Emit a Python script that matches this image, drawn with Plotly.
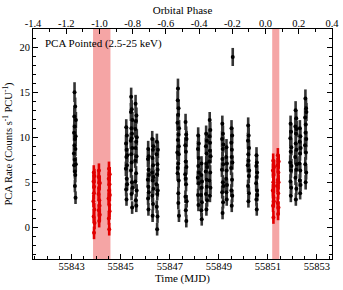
import plotly.graph_objects as go

# ---------------- data ----------------
# Black: PCA pointed rates outside the shaded intervals
black_t = [
    # ~55843.13
    55843.090, 55843.095, 55843.100, 55843.105, 55843.110, 55843.115, 55843.120, 55843.125, 55843.130,
    55843.135, 55843.140, 55843.145, 55843.150, 55843.155, 55843.160, 55843.165, 55843.170, 55843.130,
    # ~55845.24
    55845.210, 55845.215, 55845.220, 55845.225, 55845.230, 55845.235, 55845.240, 55845.245, 55845.250,
    55845.255, 55845.260, 55845.265,
    # ~55845.45
    55845.410, 55845.415, 55845.420, 55845.425, 55845.430, 55845.435, 55845.440, 55845.445, 55845.450,
    55845.455, 55845.460, 55845.465, 55845.470, 55845.475, 55845.480, 55845.445,
    # ~55845.62
    55845.590, 55845.595, 55845.600, 55845.605, 55845.610, 55845.615, 55845.620, 55845.625, 55845.630,
    55845.635, 55845.640, 55845.645, 55845.650, 55845.655,
    # ~55846.13
    55846.105, 55846.110, 55846.115, 55846.120, 55846.125, 55846.130, 55846.135, 55846.140, 55846.145,
    55846.150,
    # ~55846.31
    55846.280, 55846.285, 55846.290, 55846.295, 55846.300, 55846.305, 55846.310, 55846.315, 55846.320,
    55846.325, 55846.330, 55846.335,
    # ~55846.49
    55846.460, 55846.465, 55846.470, 55846.475, 55846.480, 55846.485, 55846.490, 55846.495, 55846.500,
    55846.505, 55846.510, 55846.515,
    # ~55847.35
    55847.310, 55847.315, 55847.320, 55847.325, 55847.330, 55847.335, 55847.340, 55847.345, 55847.350,
    55847.355, 55847.360, 55847.365, 55847.370, 55847.375, 55847.380, 55847.330, 55847.350, 55847.370,
    # ~55847.66
    55847.630, 55847.635, 55847.640, 55847.645, 55847.650, 55847.655, 55847.660, 55847.665, 55847.670,
    55847.675, 55847.680, 55847.685, 55847.690, 55847.650,
    # ~55848.17
    55848.145, 55848.150, 55848.155, 55848.160, 55848.165, 55848.170, 55848.175, 55848.180, 55848.185,
    55848.190,
    # ~55848.30
    55848.280, 55848.285, 55848.290, 55848.295, 55848.300, 55848.305, 55848.310, 55848.315,
    # ~55848.50
    55848.470, 55848.475, 55848.480, 55848.485, 55848.490, 55848.495, 55848.500, 55848.505, 55848.510,
    55848.515, 55848.520, 55848.525,
    # ~55848.64
    55848.615, 55848.620, 55848.625, 55848.630, 55848.635, 55848.640, 55848.645, 55848.650, 55848.655,
    55848.660, 55848.665,
    # ~55849.16
    55849.130, 55849.135, 55849.140, 55849.145, 55849.150, 55849.155, 55849.160, 55849.165, 55849.170,
    55849.175, 55849.180, 55849.185, 55849.190,
    # ~55849.32
    55849.300, 55849.305, 55849.310, 55849.315, 55849.320, 55849.325, 55849.330, 55849.335,
    # ~55849.53
    55849.505, 55849.510, 55849.515, 55849.520, 55849.525, 55849.530, 55849.535, 55849.540, 55849.545,
    55849.550, 55849.555,
    # isolated high point
    55849.570,
    # ~55850.21
    55850.185, 55850.190, 55850.195, 55850.200, 55850.205, 55850.210, 55850.215, 55850.220, 55850.225,
    55850.230, 55850.235, 55850.240,
    # ~55850.55
    55850.525, 55850.530, 55850.535, 55850.540, 55850.545, 55850.550, 55850.555, 55850.560, 55850.565,
    55850.570,
    # ~55851.94
    55851.915, 55851.920, 55851.925, 55851.930, 55851.935, 55851.940, 55851.945, 55851.950, 55851.955,
    55851.960, 55851.965,
    # ~55852.15
    55852.120, 55852.125, 55852.130, 55852.135, 55852.140, 55852.145, 55852.150, 55852.155, 55852.160,
    55852.165, 55852.170, 55852.175, 55852.180,
    # ~55852.32
    55852.295, 55852.300, 55852.305, 55852.310, 55852.315, 55852.320, 55852.325, 55852.330, 55852.335,
    55852.340,
    # ~55852.55
    55852.520, 55852.525, 55852.530, 55852.535, 55852.540, 55852.545, 55852.550, 55852.555, 55852.560,
    55852.565, 55852.570, 55852.575,
]
black_rate = [
    8.2, 10.5, 6.9, 12.3, 9.1, 15.0, 11.2, 7.5, 4.6, 9.8, 13.4, 5.8, 8.7, 3.3, 10.1, 7.0, 11.9, 6.2,
    6.5, 9.3, 4.2, 11.1, 7.8, 3.1, 8.6, 5.4, 10.2, 6.9, 4.8, 8.0,
    9.6, 12.8, 6.3, 14.5, 8.1, 11.0, 3.7, 7.2, 13.1, 5.0, 10.4, 2.2, 8.8, 11.9, 4.4, 9.9,
    7.4, 10.9, 5.1, 13.7, 8.8, 3.0, 11.8, 6.0, 9.5, 2.4, 12.4, 7.9, 4.1, 10.0,
    5.3, 7.6, 3.2, 8.7, 4.5, 2.0, 6.4, 7.9, 3.9, 5.8,
    6.1, 9.8, 3.5, 7.7, 1.3, 5.2, 8.6, 2.6, 6.9, 4.3, 9.0, 5.6,
    4.8, 8.1, 2.3, 9.5, 5.9, -0.2, 3.7, 7.0, 1.2, 6.4, 4.1, 8.6,
    8.3, 11.6, 6.0, 14.1, 9.7, 15.4, 12.5, 7.1, 3.8, 10.3, 13.2, 5.2, 9.0, 1.3, 11.0, 6.6, 2.7, 8.1,
    5.9, 9.1, 3.4, 11.7, 7.3, 1.9, 8.4, 4.8, 10.3, 0.7, 6.7, 9.8, 2.9, 5.4,
    5.5, 8.7, 3.6, 10.2, 6.8, 2.5, 7.7, 4.9, 9.3, 6.1,
    3.6, 5.8, 1.9, 7.1, 4.4, 0.9, 2.8, 5.1,
    6.2, 9.0, 3.7, 10.4, 7.1, 2.0, 5.3, 8.2, 4.5, 9.6, 6.7, 3.0,
    7.3, 10.1, 5.2, 11.9, 8.5, 3.5, 9.4, 6.1, 10.8, 4.4, 7.9,
    6.4, 9.8, 3.9, 11.5, 7.6, 1.6, 8.7, 5.0, 10.4, 2.8, 7.0, 9.2, 4.6,
    5.4, 7.8, 3.9, 8.9, 6.3, 3.1, 7.1, 4.7,
    6.6, 9.4, 4.1, 11.0, 7.8, 2.4, 8.6, 5.3, 10.2, 3.5, 7.2,
    18.9,
    6.9, 9.6, 4.6, 11.3, 8.1, 2.9, 7.4, 10.2, 5.7, 3.8, 8.8, 6.3,
    4.9, 6.8, 3.1, 8.0, 5.6, 2.0, 7.2, 4.1, 6.1, 3.6,
    7.2, 9.9, 5.1, 11.5, 8.4, 3.5, 6.3, 10.6, 4.4, 8.9, 6.8,
    7.8, 11.2, 5.5, 13.0, 9.3, 3.1, 10.4, 6.4, 12.1, 4.3, 8.6, 10.9, 7.0,
    7.1, 9.5, 5.2, 11.0, 8.2, 3.8, 6.3, 10.1, 4.7, 8.8,
    9.1, 12.2, 7.0, 14.3, 10.5, 5.0, 11.4, 8.3, 13.2, 6.1, 9.8, 12.8,
]
black_err = [
    0.8, 0.9, 0.8, 1.0, 0.8, 1.1, 0.9, 0.8, 0.7, 0.9, 1.0, 0.8, 0.8, 0.7, 0.9, 0.8, 0.9, 0.8,
    0.8, 0.9, 0.7, 0.9, 0.8, 0.7, 0.8, 0.8, 0.9, 0.8, 0.7, 0.8,
    0.9, 1.0, 0.8, 1.0, 0.8, 0.9, 0.7, 0.8, 1.0, 0.8, 0.9, 0.7, 0.8, 0.9, 0.7, 0.9,
    0.8, 0.9, 0.8, 1.0, 0.8, 0.7, 0.9, 0.8, 0.9, 0.7, 0.9, 0.8, 0.7, 0.9,
    0.8, 0.9, 0.7, 0.9, 0.8, 0.7, 0.8, 0.9, 0.7, 0.8,
    0.8, 0.9, 0.7, 0.8, 0.7, 0.8, 0.9, 0.7, 0.8, 0.7, 0.9, 0.8,
    0.8, 0.9, 0.7, 0.9, 0.8, 0.7, 0.7, 0.8, 0.7, 0.8, 0.7, 0.9,
    0.8, 0.9, 0.8, 1.0, 0.9, 1.1, 0.9, 0.8, 0.7, 0.9, 1.0, 0.8, 0.8, 0.7, 0.9, 0.8, 0.7, 0.8,
    0.8, 0.9, 0.7, 0.9, 0.8, 0.7, 0.8, 0.8, 0.9, 0.7, 0.8, 0.9, 0.7, 0.8,
    0.8, 0.9, 0.7, 0.9, 0.8, 0.7, 0.8, 0.8, 0.9, 0.8,
    0.7, 0.8, 0.7, 0.8, 0.7, 0.7, 0.7, 0.8,
    0.8, 0.9, 0.7, 0.9, 0.8, 0.7, 0.8, 0.9, 0.7, 0.9, 0.8, 0.7,
    0.8, 0.9, 0.8, 0.9, 0.8, 0.7, 0.9, 0.8, 0.9, 0.7, 0.8,
    0.8, 0.9, 0.7, 0.9, 0.8, 0.7, 0.8, 0.8, 0.9, 0.7, 0.8, 0.9, 0.7,
    0.8, 0.9, 0.7, 0.9, 0.8, 0.7, 0.8, 0.7,
    0.8, 0.9, 0.7, 0.9, 0.8, 0.7, 0.9, 0.8, 0.9, 0.7, 0.8,
    1.0,
    0.8, 0.9, 0.7, 0.9, 0.8, 0.7, 0.8, 0.9, 0.8, 0.7, 0.9, 0.8,
    0.8, 0.8, 0.7, 0.9, 0.8, 0.7, 0.8, 0.7, 0.8, 0.7,
    0.8, 0.9, 0.8, 0.9, 0.8, 0.7, 0.8, 0.9, 0.7, 0.9, 0.8,
    0.8, 0.9, 0.8, 1.0, 0.9, 0.7, 0.9, 0.8, 0.9, 0.7, 0.8, 0.9, 0.8,
    0.8, 0.9, 0.7, 0.9, 0.8, 0.7, 0.8, 0.9, 0.7, 0.8,
    0.9, 1.0, 0.8, 1.0, 0.9, 0.8, 0.9, 0.8, 1.0, 0.8, 0.9, 1.0,
]

# Red: rates inside the shaded (low-state) intervals
red_t = [
    55843.885, 55843.890, 55843.895, 55843.900, 55843.905, 55843.910, 55843.915, 55843.920, 55843.925, 55843.930,
    55844.095, 55844.100, 55844.105, 55844.110, 55844.115, 55844.120, 55844.125, 55844.130, 55844.135, 55844.140, 55844.145,
    55844.505, 55844.510, 55844.515, 55844.520, 55844.525, 55844.530, 55844.535, 55844.540, 55844.545, 55844.550, 55844.555,
    55851.205, 55851.210, 55851.215, 55851.220, 55851.225, 55851.230, 55851.235, 55851.240, 55851.245, 55851.250, 55851.255,
    55851.395, 55851.400, 55851.405, 55851.410, 55851.415, 55851.420, 55851.425, 55851.430, 55851.435, 55851.440, 55851.445,
]
red_rate = [
    2.9, 5.1, 1.2, 6.1, 3.8, -0.6, 4.5, 2.0, 5.7, 0.5,
    3.7, 5.6, 1.9, 6.3, 4.4, 0.7, 3.0, 5.0, 2.4, 4.9, 1.4,
    3.2, 5.4, 1.0, 6.5, 4.1, -0.2, 2.5, 4.8, 1.8, 5.9, 3.6,
    4.1, 6.3, 2.4, 7.4, 5.0, 1.1, 3.3, 5.8, 2.9, 4.6, 6.7,
    4.6, 6.9, 2.7, 8.0, 5.3, 1.5, 3.8, 6.1, 2.2, 5.0, 7.3,
]
red_err = [
    0.7, 0.8, 0.7, 0.8, 0.7, 0.7, 0.8, 0.7, 0.8, 0.7,
    0.7, 0.8, 0.7, 0.8, 0.7, 0.7, 0.7, 0.8, 0.7, 0.8, 0.7,
    0.7, 0.8, 0.7, 0.8, 0.7, 0.7, 0.7, 0.8, 0.7, 0.8, 0.7,
    0.7, 0.8, 0.7, 0.8, 0.7, 0.7, 0.7, 0.8, 0.7, 0.8, 0.8,
    0.7, 0.8, 0.7, 0.8, 0.7, 0.7, 0.7, 0.8, 0.7, 0.8, 0.8,
]

# shaded intervals (MJD)
shade_start = [55843.87, 55851.18]
shade_end = [55844.58, 55851.47]

# axis ranges
mjd_range = [55841.42, 55853.62]
phase_range = [-1.4, 0.4]
rate_range = [-3.5, 22.0]
mjd_ticks = [55843, 55845, 55847, 55849, 55851, 55853]
phase_ticks = [-1.4, -1.2, -1.0, -0.8, -0.6, -0.4, -0.2, 0.0, 0.2, 0.4]
phase_labels = ["-1.4", "-1.2", "-1.0", "-0.8", "-0.6", "-0.4", "-0.2", "0.0", "0.2", "0.4"]
rate_ticks = [0, 5, 10, 15, 20]

FONT = "Liberation Serif, Times New Roman, serif"

fig = go.Figure()

fig.add_trace(go.Scatter(
    x=black_t, y=black_rate, mode="markers",
    marker=dict(color="black", size=4),
    error_y=dict(type="data", array=black_err, color="#333333", thickness=2.6, width=0),
    showlegend=False, hoverinfo="skip",
))
fig.add_trace(go.Scatter(
    x=red_t, y=red_rate, mode="markers",
    marker=dict(color="#e00000", size=4),
    error_y=dict(type="data", array=red_err, color="#e40000", thickness=2.6, width=0),
    showlegend=False, hoverinfo="skip",
))
# invisible trace to activate the top (phase) axis
fig.add_trace(go.Scatter(
    x=phase_range, y=[None, None], xaxis="x2", mode="markers",
    showlegend=False, hoverinfo="skip",
))

for s, e in zip(shade_start, shade_end):
    fig.add_shape(type="rect", xref="x", yref="paper", x0=s, x1=e, y0=0, y1=1,
                  fillcolor="#f5a5a5", line_width=0, layer="below")

axis_common = dict(
    showline=True, linecolor="black", linewidth=1, showgrid=False, zeroline=False,
    ticks="inside", ticklen=5, tickwidth=1, tickcolor="black", automargin=False,
    tickfont=dict(family=FONT, size=10.5, color="black"),
)

fig.update_layout(
    width=343, height=290,
    margin=dict(l=33, r=11, t=29, b=31),
    paper_bgcolor="white", plot_bgcolor="white",
    font=dict(family=FONT, color="black"),
    xaxis=dict(
        range=mjd_range, tickvals=mjd_ticks, ticktext=[str(v) for v in mjd_ticks],
        minor=dict(ticks="inside", ticklen=3, dtick=0.5, tickcolor="black"),
        title=dict(text="Time (MJD)", font=dict(family=FONT, size=11), standoff=0),
        ticklabelstandoff=-3, mirror=False, **axis_common,
    ),
    xaxis2=dict(
        range=phase_range, overlaying="x", side="top", anchor="y",
        tickvals=phase_ticks, ticktext=phase_labels,
        minor=dict(ticks="inside", ticklen=3, dtick=0.1, tickcolor="black"),
        title=dict(text="Orbital Phase", font=dict(family=FONT, size=11), standoff=0),
        ticklabelstandoff=-3, **axis_common,
    ),
    yaxis=dict(
        range=rate_range, tickvals=rate_ticks,
        minor=dict(ticks="inside", ticklen=3, dtick=1, tickcolor="black"),
        title=dict(text="PCA Rate (Counts s<sup>-1</sup> PCU<sup>-1</sup>)",
                   font=dict(family=FONT, size=10.5), standoff=4),
        mirror="ticks", **axis_common,
    ),
    annotations=[dict(
        text="PCA Pointed (2.5-25 keV)", xref="paper", yref="paper",
        x=0.033, y=0.935, xanchor="left", yanchor="middle", showarrow=False,
        font=dict(family=FONT, size=11, color="black"),
    )],
)

# remove the browser's default 8px page margin so the figure sits at (0, 0)
fig.write_html(
    "out.html",
    config={"displayModeBar": False},
    post_script="document.body.style.margin='0';document.body.style.overflow='hidden';",
)
